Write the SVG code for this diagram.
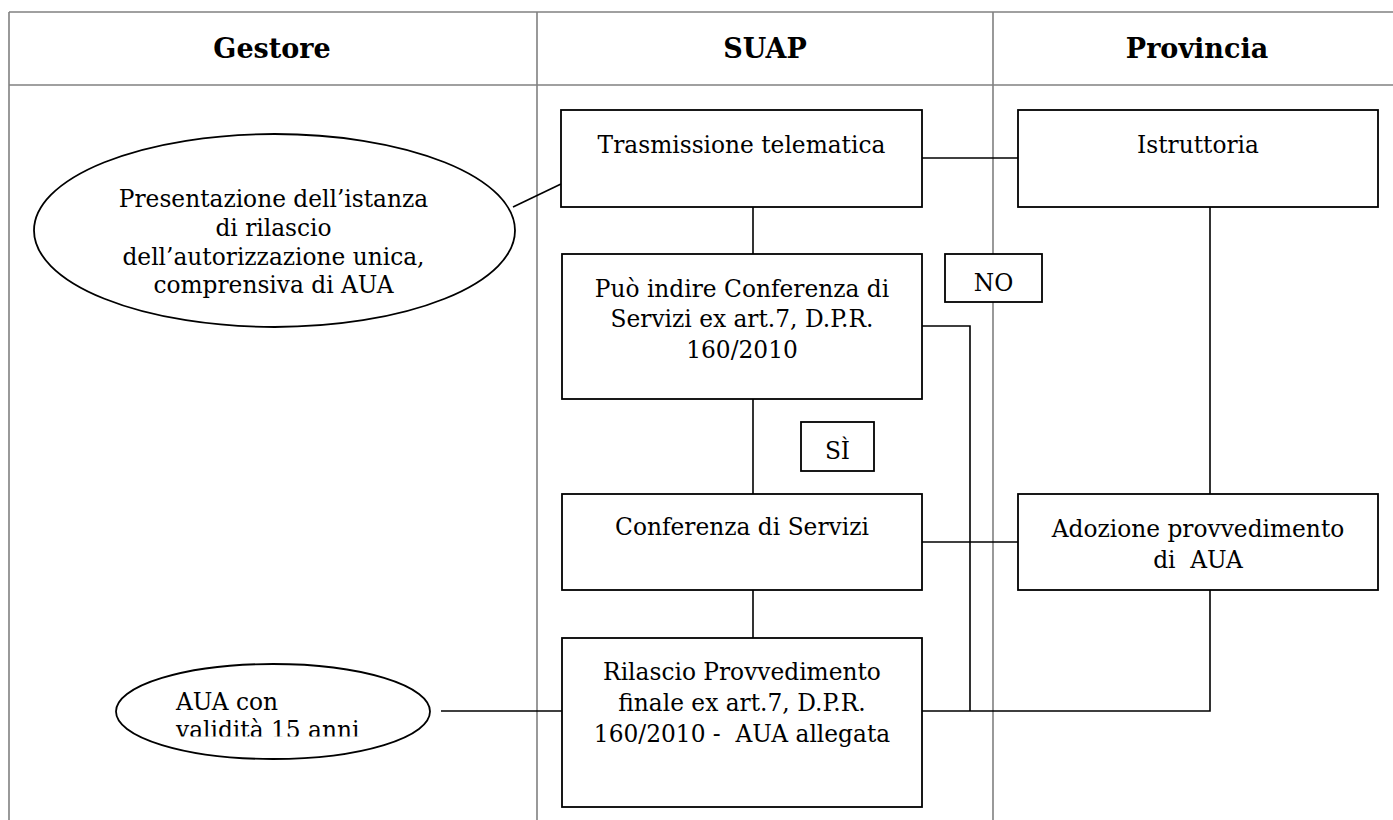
<svg xmlns="http://www.w3.org/2000/svg" width="1393" height="820" viewBox="0 0 1393 820">
<style>
.grid{stroke:#808080;stroke-width:1.6;fill:none}
.box{fill:#fff;stroke:#000;stroke-width:1.8}
.con{stroke:#000;stroke-width:1.6;fill:none}
text{font-family:"DejaVu Serif","Liberation Serif",serif;font-size:23.3px;fill:#000;white-space:pre}
.h{font-weight:bold;font-size:27px;text-anchor:middle}
.c{text-anchor:middle}
</style>
<defs>
<clipPath id="clipAua"><rect x="100" y="650" width="330" height="86.5"/></clipPath>
</defs>
<rect width="1393" height="820" fill="#fff"/>
<g id="table">
<line class="grid" x1="9" y1="12" x2="1393" y2="12"/>
<line class="grid" x1="9" y1="85" x2="1393" y2="85"/>
<line class="grid" x1="9" y1="12" x2="9" y2="820"/>
<line class="grid" x1="537" y1="12" x2="537" y2="820"/>
<line class="grid" x1="993" y1="12" x2="993" y2="820"/>
<text class="h" x="272" y="58">Gestore</text>
<text class="h" x="765" y="58">SUAP</text>
<text class="h" x="1197" y="58">Provincia</text>
</g>
<g id="connectors">
<line class="con" x1="513" y1="207" x2="561" y2="184"/>
<line class="con" x1="922" y1="158" x2="1018" y2="158"/>
<line class="con" x1="753" y1="207" x2="753" y2="254"/>
<line class="con" x1="753" y1="399" x2="753" y2="494"/>
<line class="con" x1="753" y1="590" x2="753" y2="638"/>
<line class="con" x1="922" y1="542" x2="1018" y2="542"/>
<polyline class="con" points="922,326 970,326 970,711"/>
<line class="con" x1="1210" y1="207" x2="1210" y2="494"/>
<polyline class="con" points="1210,590 1210,711 922,711"/>
<line class="con" x1="441" y1="711" x2="562" y2="711"/>
</g>
<g id="presentazione">
<ellipse class="box" cx="274.5" cy="230.5" rx="240.5" ry="96.5"/>
<text class="c" x="273.5" y="207">Presentazione dell’istanza</text>
<text class="c" x="273.5" y="236">di rilascio</text>
<text class="c" x="273.5" y="265">dell’autorizzazione unica,</text>
<text class="c" x="273.5" y="293">comprensiva di AUA</text>
</g>
<g id="trasmissione">
<rect class="box" x="561" y="110" width="361" height="97"/>
<text class="c" x="741.5" y="153">Trasmissione telematica</text>
</g>
<g id="istruttoria">
<rect class="box" x="1018" y="110" width="360" height="97"/>
<text class="c" x="1198" y="153">Istruttoria</text>
</g>
<g id="puo">
<rect class="box" x="562" y="254" width="360" height="145"/>
<text class="c" x="742" y="297">Può indire Conferenza di</text>
<text class="c" x="742" y="327">Servizi ex art.7, D.P.R.</text>
<text class="c" x="742" y="358">160/2010</text>
</g>
<g id="no">
<rect class="box" x="945" y="254" width="97" height="48"/>
<text class="c" x="993.5" y="291">NO</text>
</g>
<g id="si">
<rect class="box" x="801" y="422" width="73" height="49"/>
<text class="c" x="837.5" y="459">SÌ</text>
</g>
<g id="conferenza">
<rect class="box" x="562" y="494" width="360" height="96"/>
<text class="c" x="742" y="535">Conferenza di Servizi</text>
</g>
<g id="adozione">
<rect class="box" x="1018" y="494" width="360" height="96"/>
<text class="c" x="1198" y="537">Adozione provvedimento</text>
<text class="c" x="1198" y="568">di  AUA</text>
</g>
<g id="rilascio">
<rect class="box" x="562" y="638" width="360" height="169"/>
<text class="c" x="742" y="680">Rilascio Provvedimento</text>
<text class="c" x="742" y="711">finale ex art.7, D.P.R.</text>
<text class="c" x="742" y="742">160/2010 -  AUA allegata</text>
</g>
<g id="aua">
<ellipse class="box" cx="273" cy="711.5" rx="157" ry="47.5"/>
<g clip-path="url(#clipAua)">
<text x="176" y="710">AUA con</text>
<text x="176" y="738">validità 15 anni</text>
</g>
</g>
</svg>
